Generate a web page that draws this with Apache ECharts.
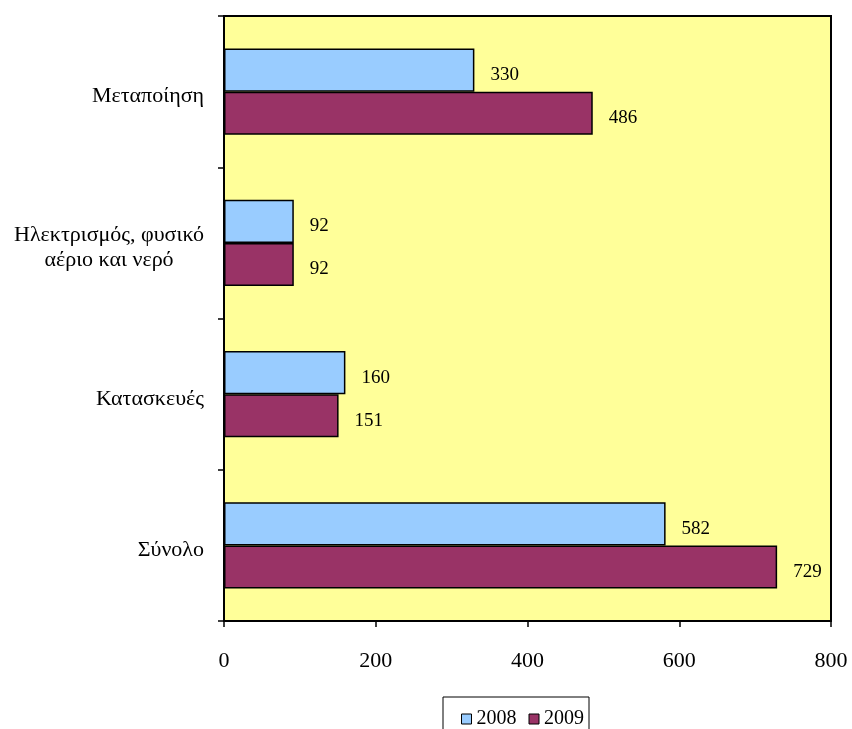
<!DOCTYPE html>
<html>
<head>
<meta charset="utf-8">
<script src="https://cdn.jsdelivr.net/npm/echarts@6/dist/echarts.min.js"></script>
<style>html,body{margin:0;padding:0;background:#fff}#c{width:852px;height:729px}</style>
</head>
<body>
<div id="c"></div>
<script>
var categories = ['Μεταποίηση', 'Ηλεκτρισμός, φυσικό\nαέριο και νερό', 'Κατασκευές', 'Σύνολο'];
var seriesNames = ['2008', '2009'];
var values2008 = [330, 92, 160, 582];
var values2009 = [486, 92, 151, 729];
var xTicks = [0, 200, 400, 600, 800];

var FONT = '"Liberation Serif", "Times New Roman", serif';
var chart = echarts.init(document.getElementById('c'));
function series(name, data, color) {
  return {
    name: name, type: 'bar', data: data,
    barGap: '0%', barCategoryGap: '43%',
    itemStyle: { color: color, borderColor: '#000', borderWidth: 1.5 },
    label: { show: true, position: 'right', distance: 16, color: '#000',
      fontFamily: FONT, fontSize: 19, offset: [0, 5] },
    animation: false
  };
}
chart.setOption({
  animation: false,
  grid: { left: 224, right: 21, top: 16, bottom: 108, show: true,
    backgroundColor: '#FFFF99', borderColor: '#000', borderWidth: 2 },
  xAxis: {
    type: 'value', min: xTicks[0], max: xTicks[xTicks.length - 1], interval: 200,
    axisLine: { show: true, lineStyle: { color: '#000', width: 2 } },
    axisTick: { show: true, length: 6, lineStyle: { color: '#000', width: 1.5 } },
    splitLine: { show: false },
    axisLabel: { color: '#000', fontFamily: FONT, fontSize: 22, margin: 29 }
  },
  yAxis: {
    type: 'category', data: categories, inverse: true,
    axisLine: { show: true, lineStyle: { color: '#000', width: 2 } },
    axisTick: { show: true, length: 6, lineStyle: { color: '#000', width: 1.5 } },
    axisLabel: { color: '#000', fontFamily: FONT, fontSize: 22, margin: 20, lineHeight: 25,
      padding: [10, 0, 0, 0],
      formatter: function (v) {
        return v.split('\n').map(function (s) { return '{c|' + s + '}'; }).join('\n');
      },
      rich: { c: { align: 'center', fontFamily: FONT, fontSize: 22, lineHeight: 25, color: '#000' } }
    }
  },
  legend: {
    data: seriesNames, left: 443, top: 697,
    padding: [12, 5, 10, 18], itemGap: 12, itemWidth: 10, itemHeight: 10,
    borderColor: '#000', borderWidth: 1, icon: 'rect',
    itemStyle: { borderColor: '#000', borderWidth: 1 },
    textStyle: { color: '#000', fontFamily: FONT, fontSize: 20, padding: [0, 0, 0, 0] }
  },
  series: [
    series(seriesNames[0], values2008, '#99CCFF'),
    series(seriesNames[1], values2009, '#993366')
  ]
});
</script>
</body>
</html>
